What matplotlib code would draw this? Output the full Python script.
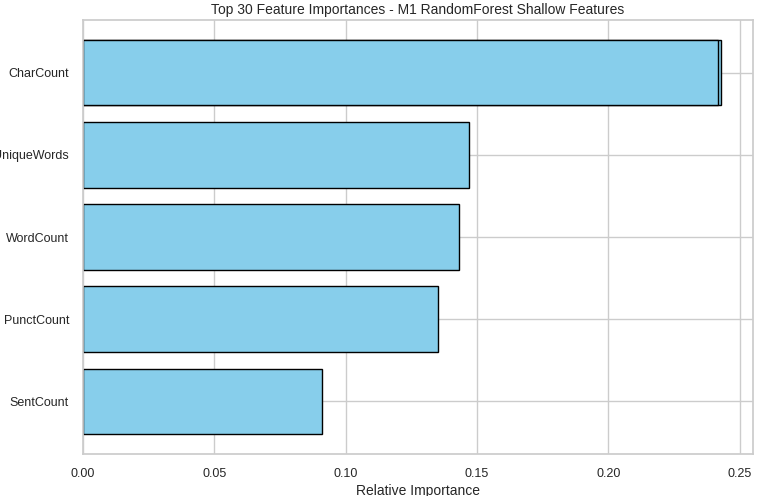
import matplotlib.pyplot as plt
import seaborn as sns

sns.set_theme(style="whitegrid")
plt.rcParams['font.family'] = ['Liberation Sans', 'DejaVu Sans']

# CharCount appears twice (overlapping bars), bottom-to-top order
features = ["SentCount", "PunctCount", "WordCount", "UniqueWords", "CharCount", "CharCount"]
importances = [0.091, 0.135, 0.143, 0.147, 0.243, 0.2415]

fig = plt.figure(figsize=(7.59, 4.96), dpi=100)
ax = fig.add_axes([83/759, 42/496, 670/759, 434/496])
ax.barh(features, importances, color="skyblue", edgecolor="black")
ax.set_xlim(0, 0.255)
ax.set_xlabel("Relative Importance", fontsize=10, labelpad=3)
ax.set_title("Top 30 Feature Importances - M1 RandomForest Shallow Features", fontsize=10, pad=4)
ax.tick_params(labelsize=9, pad=4)
for s in ax.spines.values():
    s.set_color("#cccccc")
fig.savefig("out.png", dpi=100)
